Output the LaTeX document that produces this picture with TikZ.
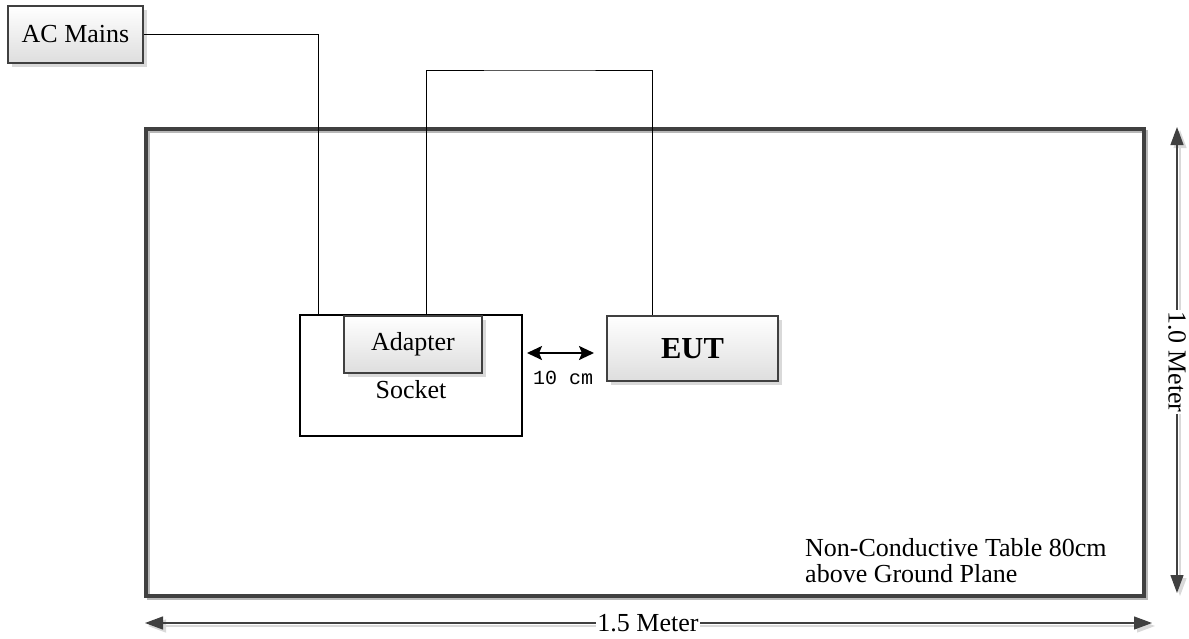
\documentclass[tikz,border=0pt]{standalone}
\usepackage{fontspec}
\setmainfont{Liberation Serif}
\setmonofont{Liberation Mono}
\usetikzlibrary{shadows,arrows.meta,calc}
\definecolor{edge}{HTML}{404040}
\tikzset{
  txt/.style={font=\fontsize{26}{26.5}\selectfont, inner sep=0pt},
  gbox/.style={draw=edge, line width=2.5pt, top color=white, bottom color=black!13,
    inner sep=0pt, drop shadow={shadow xshift=4pt, shadow yshift=-4pt, fill=black!15, opacity=1},
    font=\fontsize{26}{30}\selectfont},
  tablebox/.style={draw=edge, line width=4pt, inner sep=0pt, minimum width=998pt, minimum height=467pt},
  socketbox/.style={draw=black, line width=2pt, inner sep=0pt, minimum width=222pt, minimum height=121pt},
  wire/.style={draw=black, line width=1pt},
  dim/.style={draw=edge, line width=1.2pt, {Triangle[length=18pt,width=13pt]}-{Triangle[length=18pt,width=13pt]}},
  dimshadow/.style={draw=black!15, line width=1.2pt, {Triangle[length=18pt,width=13pt]}-{Triangle[length=18pt,width=13pt]}},
  gap/.style={txt, fill=white, inner xsep=1pt, inner ysep=2pt},
  spacing/.style={draw=black, line width=2pt, {Stealth[length=15pt,width=14pt,inset=3pt]}-{Stealth[length=15pt,width=14pt,inset=3pt]}}
}
\begin{document}
\begin{tikzpicture}[x=1pt,y=-1pt]
\useasboundingbox (0,0) rectangle (1189,638);
\fill[white] (0,0) rectangle (1189,638);
% table
\draw[black!28, line width=3pt] (148,131) rectangle (1146,598);
\node[tablebox] (table) at (645,362.5) {};
% boxes
\node[socketbox] (socket) at (411,375.5) {};
\node[txt] (socketlbl) at (411,390) {Socket};
\node[gbox, minimum width=135pt, minimum height=57pt] (ac) at (75.5,34.5) {AC Mains};
\node[gbox, minimum width=138pt, minimum height=57pt] (adapter) at (413,344.5) {Adapter};
\node[gbox, minimum width=171pt, minimum height=65pt, font=\fontsize{30.5}{32}\selectfont\bfseries] (eut) at (692.5,348.5) {EUT};
% wires
\coordinate (top) at (540,70);
\draw[wire] (ac.east) -| ($(socket.north west)+(19,0)$);
\draw[wire] ($(adapter.north)+(13,0)$) |- (top) -| ($(eut.north)+(-40,0)$);
% 10 cm spacing
\coordinate (s1) at (527,353);
\coordinate (s2) at (594,353);
\draw[spacing] (s1) -- (s2);
\node[font=\ttfamily\fontsize{20}{20}\selectfont, inner sep=0pt] (tencm) at (563,378) {10 cm};
% table label
\node[txt, anchor=north west, align=left] (tlabel) at (805,538) {Non-Conductive Table 80cm\\above Ground Plane};
% dimension arrows
\coordinate (v1) at (1177,127);
\coordinate (v2) at (1177,593);
\coordinate (h1) at (145,623);
\coordinate (h2) at (1152,623);
\draw[dimshadow] ($(v1)+(3,3)$) -- ($(v2)+(3,3)$);
\draw[dimshadow] ($(h1)+(3,3)$) -- ($(h2)+(3,3)$);
\draw[dim] (v1) -- (v2);
\draw[dim] (h1) -- (h2);
\node[gap, rotate=-90] (vlabel) at (1177,362) {1.0 Meter};
\node[gap] (hlabel) at (648,623) {1.5 Meter};
\end{tikzpicture}
\end{document}
